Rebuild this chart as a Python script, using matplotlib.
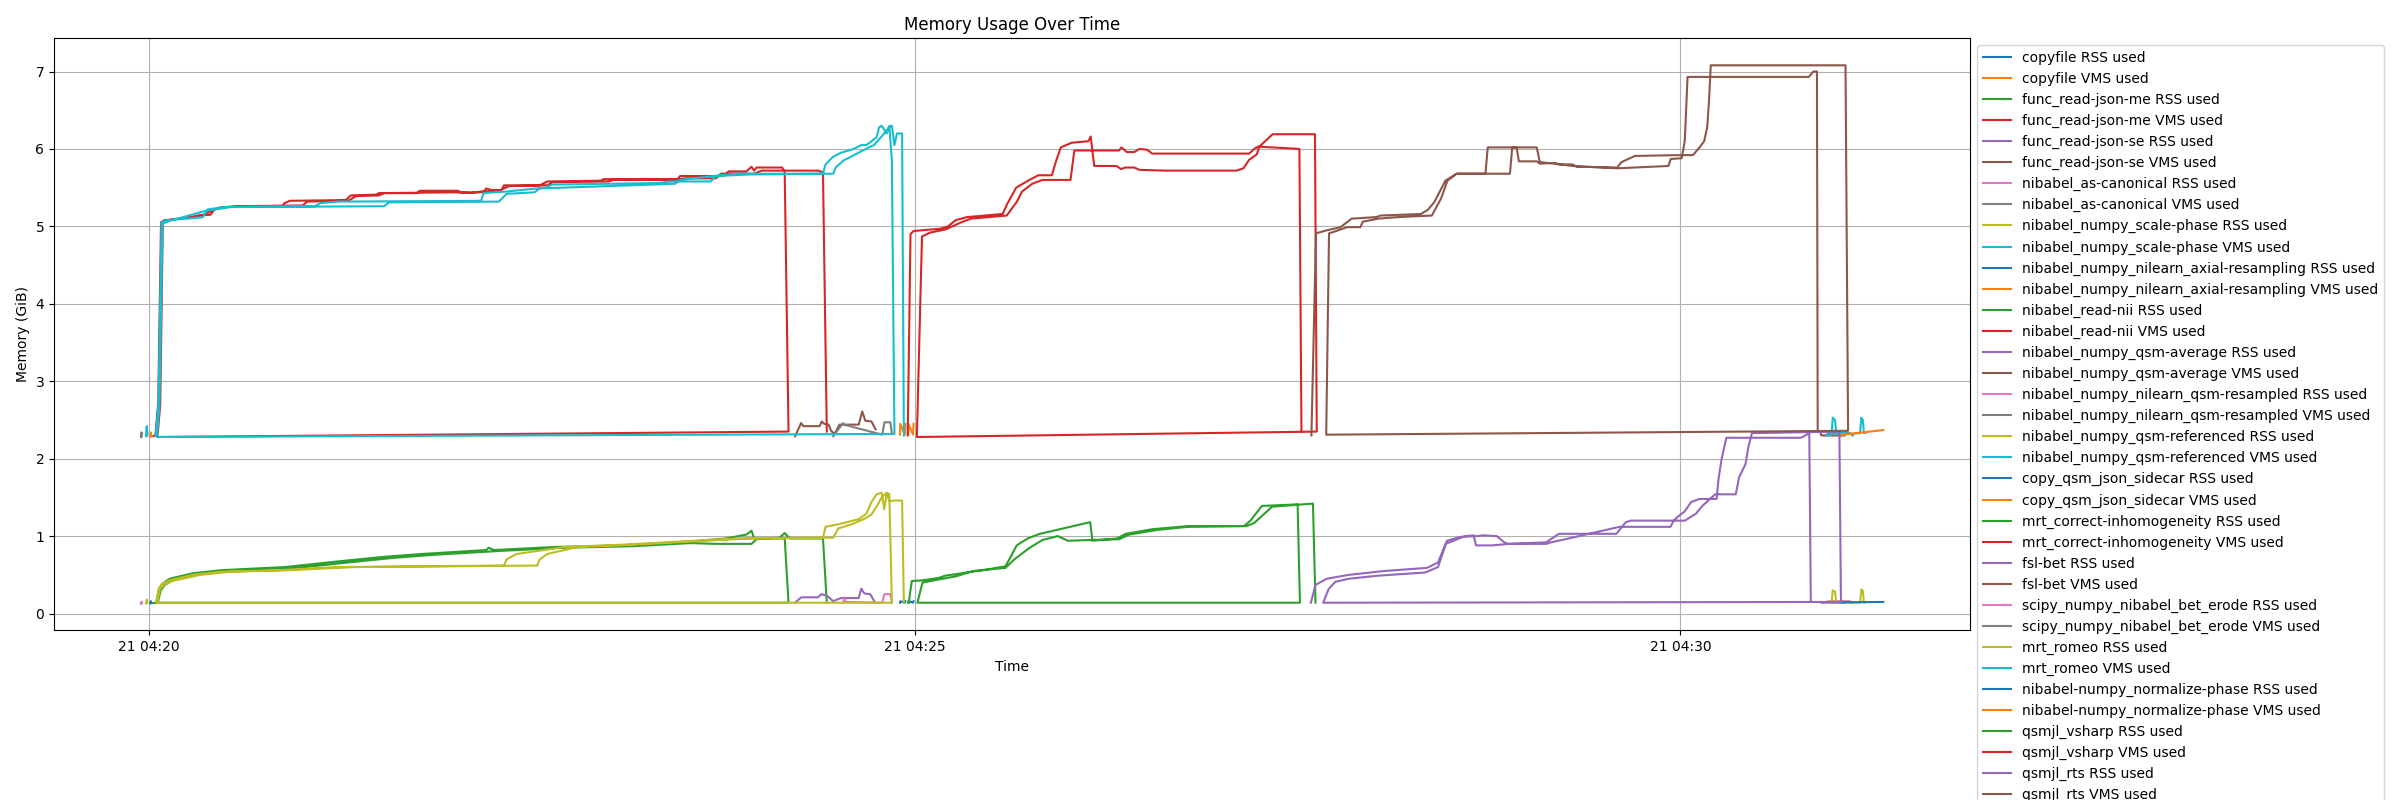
import numpy as np
import matplotlib
matplotlib.use("Agg")
import matplotlib.pyplot as plt

# time in seconds after 04:20:00, memory in GiB; each list holds (t, value) samples
start_time = np.datetime64("2024-05-21T04:20:00")

processes = [
    "copyfile", "func_read-json-me", "func_read-json-se", "nibabel_as-canonical",
    "nibabel_numpy_scale-phase", "nibabel_numpy_nilearn_axial-resampling",
    "nibabel_read-nii", "nibabel_numpy_qsm-average", "nibabel_numpy_nilearn_qsm-resampled",
    "nibabel_numpy_qsm-referenced", "copy_qsm_json_sidecar", "mrt_correct-inhomogeneity",
    "fsl-bet", "scipy_numpy_nibabel_bet_erode", "mrt_romeo",
    "nibabel-numpy_normalize-phase", "qsmjl_vsharp", "qsmjl_rts",
]

# --- short jobs -------------------------------------------------------------
copyfile_rss = [(0.4, 0.13), (0.6, 0.16), (0.8, 0.14)]
copyfile_vms = [(0.4, 2.28), (0.6, 2.34), (0.8, 2.29)]
json_me_rss = [(-3.2, 0.13), (-3.0, 0.14)]
json_me_vms = [(-3.2, 2.28), (-3.0, 2.30)]
json_se_rss = [(-3.2, 0.13), (-3.0, 0.14)]
json_se_vms = [(-3.2, 2.28), (-3.0, 2.30)]
canonical_rss = [(-3.2, 0.13), (-3.1, 0.15), (-2.9, 0.15)]
canonical_vms = [(-3.2, 2.28), (-3.1, 2.34), (-2.9, 2.33)]
scale_phase_rss = [(-1.3, 0.13), (-1.0, 0.18), (-0.7, 0.14)]
scale_phase_vms = [(-1.3, 2.29), (-1.0, 2.42), (-0.7, 2.30)]
axial_rss = [(294.2, 0.14), (294.3, 0.16), (296.1, 0.14), (296.3, 0.16)]
axial_vms = [(294.2, 2.31), (294.3, 2.45), (296.1, 2.31), (296.3, 2.45)]
read_nii_rss = [(1.6, 0.14), (2.2, 0.14)]
read_nii_vms = [(1.6, 2.29), (2.2, 2.30)]
average_rss = [(654.8, 0.15), (655.2, 0.14), (664.5, 0.14), (664.8, 0.15)]
average_vms = [(654.8, 2.35), (655.2, 2.30), (664.5, 2.30), (664.8, 2.35)]
resampled_rss = [(657.0, 0.14), (658.0, 0.16), (666.5, 0.16), (667.5, 0.14)]
resampled_vms = [(657.0, 2.30), (658.0, 2.33), (666.5, 2.33), (667.5, 2.30)]
referenced_rss = [(657.5, 0.14), (659.2, 0.14), (659.7, 0.30), (660.6, 0.28), (661.1, 0.14), (662.5, 0.15),
                  (667.0, 0.14), (670.4, 0.14), (670.9, 0.31), (671.5, 0.29), (671.9, 0.14), (673.0, 0.15)]
referenced_vms = [(657.5, 2.30), (659.2, 2.31), (659.7, 2.53), (660.6, 2.50), (661.1, 2.31), (662.5, 2.33),
                  (667.0, 2.32), (670.4, 2.33), (670.9, 2.53), (671.5, 2.50), (671.9, 2.33), (673.0, 2.34)]
sidecar_rss = [(662.3, 0.145), (679.5, 0.15)]
sidecar_vms = [(662.3, 2.28), (663.5, 2.31), (679.5, 2.37)]
bet_rss = [(253.0, 0.14), (255.5, 0.21), (262.0, 0.21), (263.4, 0.25), (265.6, 0.23), (268.0, 0.16),
           (271.0, 0.20), (278.0, 0.20), (279.0, 0.32), (280.2, 0.26), (282.5, 0.25), (284.3, 0.15)]
bet_vms = [(253.1, 2.29), (255.4, 2.46), (256.3, 2.42), (262.7, 2.42), (263.5, 2.48), (264.5, 2.45),
           (266.2, 2.44), (267.2, 2.36), (268.5, 2.32), (270.5, 2.44), (278.0, 2.44), (279.4, 2.61),
           (280.6, 2.49), (283.0, 2.48), (284.6, 2.38)]
erode_rss = [(271.9, 0.14), (272.4, 0.21), (272.8, 0.15), (287.2, 0.14), (288.1, 0.25), (290.4, 0.25), (291.0, 0.14)]
erode_vms = [(268.0, 2.29), (271.9, 2.46), (272.2, 2.44), (287.2, 2.31), (288.1, 2.47), (290.4, 2.47), (291.0, 2.33)]
normalize_rss = [(297.4, 0.14), (297.5, 0.16), (299.3, 0.14), (299.5, 0.16)]
normalize_vms = [(297.4, 2.31), (297.5, 2.45), (299.3, 2.31), (299.5, 2.45)]

# --- long jobs, two runs each -------------------------------------------------
inhom_rss_a = [(2.7, 0.14), (3.8, 0.32), (5, 0.38), (8, 0.45), (17, 0.52), (28, 0.56), (53, 0.60), (73, 0.67),
               (91, 0.73), (107, 0.77), (132, 0.82), (133, 0.85), (135, 0.82), (159, 0.86), (186, 0.88),
               (208, 0.92), (226, 0.97), (234, 1.02), (236, 1.07), (237, 0.97), (249, 0.97), (250.5, 0.14)]
inhom_rss_b = [(3.3, 0.14), (4.5, 0.30), (6, 0.37), (10, 0.44), (20, 0.51), (32, 0.55), (58, 0.59), (78, 0.66),
               (96, 0.72), (112, 0.76), (138, 0.81), (163, 0.85), (190, 0.87), (212, 0.91), (222, 0.90),
               (236, 0.90), (238, 0.96), (247, 0.98), (249, 1.04), (251, 0.97), (264, 0.97), (265.5, 0.14)]
inhom_vms_a = [(2.4, 2.30), (3.5, 2.72), (4.6, 5.05), (6, 5.08), (15, 5.11), (19, 5.14), (24, 5.15), (25.5, 5.22),
               (30, 5.25), (52, 5.26), (53, 5.30), (55, 5.33), (77, 5.34), (79, 5.40), (89, 5.41), (90, 5.43),
               (105, 5.43), (106, 5.46), (121, 5.46), (122, 5.44), (131, 5.44), (132, 5.49), (134, 5.47),
               (138, 5.47), (139, 5.53), (153, 5.53), (156, 5.58), (177, 5.59), (178, 5.61), (207, 5.61),
               (208, 5.65), (225, 5.65), (227, 5.71), (234, 5.71), (236, 5.77), (237, 5.72), (238, 5.76),
               (248, 5.76), (249, 5.70), (250.5, 2.35)]
inhom_vms_b = [(3.2, 2.28), (4.3, 2.70), (5.3, 5.04), (9, 5.09), (18, 5.12), (22, 5.16), (27, 5.24), (34, 5.26),
               (60, 5.27), (62, 5.32), (78, 5.33), (81, 5.39), (90, 5.40), (92, 5.43), (120, 5.44), (126, 5.43),
               (130, 5.45), (137, 5.46), (141, 5.52), (156, 5.53), (158, 5.57), (180, 5.58), (182, 5.60),
               (206, 5.60), (210, 5.62), (222, 5.62), (224, 5.68), (237, 5.68), (240, 5.72), (262, 5.72),
               (264, 5.70), (265.5, 2.35)]

romeo_rss_a = [(2.8, 0.14), (3.8, 0.33), (5, 0.38), (8, 0.43), (17, 0.50), (28, 0.54), (51, 0.56), (73, 0.60),
               (139, 0.62), (140, 0.70), (144, 0.77), (163, 0.86), (186, 0.89), (208, 0.93), (231, 0.97),
               (264, 0.98), (265, 1.12), (271, 1.16), (278, 1.22), (281, 1.29), (283, 1.44), (285, 1.54),
               (287, 1.56), (288, 1.35), (289, 1.56), (290, 1.54), (291, 0.14)]
romeo_rss_b = [(3.1, 0.14), (4.2, 0.31), (5.5, 0.37), (9, 0.42), (20, 0.50), (32, 0.54), (55, 0.56), (80, 0.60),
               (152, 0.62), (153, 0.70), (156, 0.77), (168, 0.86), (190, 0.89), (212, 0.93), (235, 0.97),
               (268, 0.98), (270, 1.10), (275, 1.15), (280, 1.22), (283, 1.28), (285, 1.38), (287, 1.50),
               (289, 1.56), (290, 1.45), (292, 1.46), (295, 1.46), (295.7, 0.14)]
romeo_vms_a = [(2.5, 2.30), (3.6, 2.70), (4.8, 5.05), (7, 5.08), (15, 5.10), (21, 5.12), (23, 5.22), (30, 5.25),
               (65, 5.26), (67, 5.30), (74, 5.32), (130, 5.33), (131, 5.43), (140, 5.45), (155, 5.50),
               (158, 5.54), (200, 5.56), (204, 5.58), (220, 5.58), (222, 5.65), (235, 5.67), (264, 5.68),
               (265, 5.80), (268, 5.90), (271, 5.95), (276, 6.00), (279, 6.05), (281, 6.05), (285, 6.15),
               (286, 6.28), (287, 6.30), (289, 6.20), (290, 6.30), (291, 5.85), (292, 2.32)]
romeo_vms_b = [(3.0, 2.28), (4.0, 2.70), (5.2, 5.04), (9, 5.08), (22, 5.20), (32, 5.25), (92, 5.26), (94, 5.31),
               (137, 5.32), (140, 5.42), (151, 5.44), (153, 5.49), (206, 5.55), (208, 5.60), (224, 5.66),
               (230, 5.68), (268, 5.68), (269, 5.76), (272, 5.85), (275, 5.90), (279, 5.97), (282, 6.02),
               (284, 6.05), (288, 6.20), (290, 6.28), (291, 6.30), (292, 6.05), (293, 6.20), (295, 6.20),
               (295.7, 2.30)]

vsharp_rss_a = [(297.6, 0.14), (298.8, 0.42), (303.1, 0.43), (309.3, 0.46), (312, 0.49), (316.3, 0.51),
                (320, 0.53), (326.7, 0.56), (335.5, 0.61), (337.2, 0.71), (339.9, 0.88), (344.2, 0.97),
                (349, 1.03), (353, 1.06), (368.7, 1.18), (369.6, 0.94), (379.2, 0.97), (382.7, 1.03),
                (393.2, 1.09), (407.2, 1.13), (429, 1.13), (431.5, 1.20), (436, 1.39), (450, 1.41), (450.9, 0.14)]
vsharp_rss_b = [(301, 0.14), (303, 0.40), (309.3, 0.44), (316, 0.48), (323, 0.55), (335.5, 0.59), (339, 0.70),
                (345, 0.85), (350, 0.95), (356, 1.00), (360, 0.94), (369, 0.95), (380, 0.96), (384, 1.02),
                (395, 1.08), (407, 1.12), (430, 1.13), (433, 1.17), (440, 1.38), (456, 1.42), (457, 0.14)]
vsharp_vms_a = [(297.2, 2.30), (298.3, 4.90), (299.5, 4.94), (310, 4.97), (313, 5.00), (316, 5.08), (320.5, 5.12),
                (334.4, 5.16), (336.2, 5.29), (339.7, 5.50), (344.9, 5.60), (348.4, 5.66), (353.7, 5.66),
                (355.4, 5.85), (357.2, 6.02), (361.5, 6.08), (368, 6.10), (368.9, 6.16), (370.3, 5.78),
                (379, 5.78), (380.8, 5.74), (382.5, 5.76), (386, 5.76), (388, 5.73), (398, 5.72), (426, 5.72),
                (428.8, 5.75), (431, 5.86), (434, 5.93), (435, 6.03), (440.2, 6.19), (456.8, 6.19), (457.5, 2.35)]
vsharp_vms_b = [(300.8, 2.28), (302.8, 4.87), (306, 4.92), (312, 4.96), (318, 5.05), (322, 5.10), (336, 5.14),
                (340, 5.32), (342, 5.45), (346, 5.55), (350, 5.60), (361, 5.60), (362.5, 5.98), (380, 5.98),
                (381, 6.02), (383, 5.96), (386, 5.96), (388, 6.00), (391, 5.99), (393, 5.94), (431, 5.94),
                (433, 6.00), (434.5, 6.03), (450.7, 6.00), (451.5, 2.35)]

rts_rss_a = [(455.2, 0.14), (457, 0.37), (461.4, 0.45), (470.1, 0.50), (484, 0.55), (500.7, 0.59), (505, 0.66),
             (508, 0.90), (515.6, 1.00), (519, 1.01), (519.9, 0.88), (526, 0.88), (533, 0.90), (547.4, 0.90),
             (549.3, 0.92), (554.9, 0.96), (576.1, 1.12), (596.1, 1.12), (597.4, 1.20), (601.7, 1.20),
             (606.1, 1.29), (608.6, 1.39), (613.6, 1.54), (621.7, 1.54), (623, 1.76), (625.5, 1.93),
             (626.7, 2.16), (628, 2.33), (662.3, 2.35), (662.9, 0.15)]
rts_rss_b = [(460, 0.14), (462.2, 0.32), (464.8, 0.41), (470.1, 0.45), (481.8, 0.49), (500, 0.53), (505, 0.60),
             (508.5, 0.94), (513.8, 0.99), (520, 1.00), (523, 1.01), (528, 1.00), (531, 0.92), (532.4, 0.90),
             (547.4, 0.92), (552.4, 1.03), (574.9, 1.03), (578.6, 1.18), (580.5, 1.20), (597.4, 1.20),
             (598.6, 1.24), (601.7, 1.32), (604.2, 1.44), (607.4, 1.48), (614.2, 1.48), (614.9, 1.73),
             (616.1, 1.99), (618, 2.27), (647.3, 2.27), (650.5, 2.33), (651.1, 0.15)]
rts_vms_a = [(455.4, 2.30), (457.2, 4.91), (461.5, 4.95), (466.8, 4.99), (471.2, 5.10), (480.8, 5.12),
             (482.5, 5.14), (498.3, 5.16), (500.9, 5.21), (503.5, 5.31), (507.9, 5.59), (512.3, 5.68),
             (523.6, 5.68), (524.5, 6.02), (535.8, 6.02), (536.7, 5.84), (543.7, 5.84), (544.9, 5.81),
             (550.7, 5.82), (552.4, 5.80), (557.7, 5.80), (559.4, 5.77), (575.2, 5.76), (576.9, 5.83),
             (582.2, 5.91), (599.7, 5.92), (604.9, 5.92), (607.5, 6.02), (609.3, 6.10), (610.5, 6.28),
             (611.2, 6.62), (611.9, 7.08), (664.7, 7.08), (665.7, 2.36)]
rts_vms_b = [(461.2, 2.31), (462.3, 4.91), (464.2, 4.93), (469.4, 4.99), (474.6, 4.99), (475.5, 5.06),
             (481.6, 5.10), (489.5, 5.12), (502.6, 5.14), (504.4, 5.25), (506.2, 5.36), (508.7, 5.59),
             (512.3, 5.68), (533.2, 5.68), (534.1, 6.02), (543.7, 6.02), (544.9, 5.83), (550.7, 5.81),
             (557.7, 5.78), (575.2, 5.75), (595.3, 5.78), (596.2, 5.87), (600.5, 5.88), (601.7, 6.10),
             (602.8, 6.93), (650.3, 6.93), (652.1, 7.00), (653.5, 7.00), (653.8, 2.36)]

series = [
    (copyfile_rss, copyfile_vms),
    (json_me_rss, json_me_vms),
    (json_se_rss, json_se_vms),
    (canonical_rss, canonical_vms),
    (scale_phase_rss, scale_phase_vms),
    (axial_rss, axial_vms),
    (read_nii_rss, read_nii_vms),
    (average_rss, average_vms),
    (resampled_rss, resampled_vms),
    (referenced_rss, referenced_vms),
    (sidecar_rss, sidecar_vms),
    (inhom_rss_a + inhom_rss_b, inhom_vms_a + inhom_vms_b),
    (bet_rss, bet_vms),
    (erode_rss, erode_vms),
    (romeo_rss_a + romeo_rss_b, romeo_vms_a + romeo_vms_b),
    (normalize_rss, normalize_vms),
    (vsharp_rss_a + vsharp_rss_b, vsharp_vms_a + vsharp_vms_b),
    (rts_rss_a + rts_rss_b, rts_vms_a + rts_vms_b),
]


def to_times(samples):
    secs = np.array([s[0] for s in samples])
    return start_time + (secs * 1000).astype("timedelta64[ms]")


fig = plt.figure(figsize=(24, 8), dpi=100)
ax = fig.add_subplot(111)
fig.subplots_adjust(left=0.0225, right=0.821, top=0.952, bottom=0.212)

for name, (rss, vms) in zip(processes, series):
    ax.plot(to_times(rss), [s[1] for s in rss], label=f"{name} RSS used")
    ax.plot(to_times(vms), [s[1] for s in vms], label=f"{name} VMS used")

ax.set_title("Memory Usage Over Time")
ax.set_xlabel("Time")
ax.set_ylabel("Memory (GiB)")
ax.grid(True)
ax.legend(loc="upper left", bbox_to_anchor=(1, 1))

fig.savefig("out.png", dpi=100)
